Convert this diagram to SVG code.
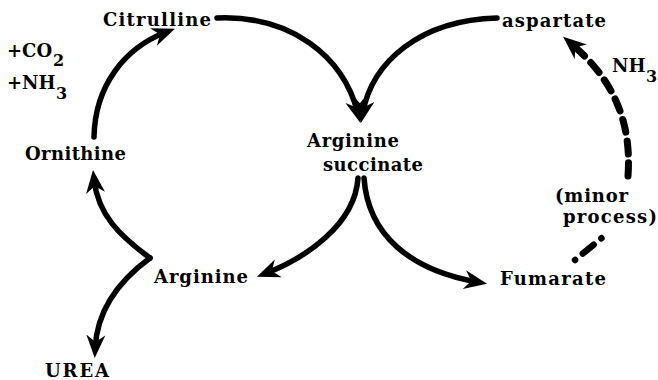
<svg xmlns="http://www.w3.org/2000/svg" width="658" height="380" viewBox="0 0 658 380">
<style>
text{font-family:"DejaVu Serif","Liberation Serif",serif;font-weight:bold;font-size:18px;fill:#000}
.sub{font-size:16px}
.c{fill:none;stroke:#000;stroke-width:5.5;stroke-linecap:round}
.d{fill:none;stroke:#000;stroke-width:7;stroke-linecap:round;stroke-dasharray:13 9}
.d2{fill:none;stroke:#000;stroke-width:6.5;stroke-linecap:round;stroke-dasharray:0.1 10 14 10 0.1 100}
</style>
<defs>
<marker id="ah" markerUnits="userSpaceOnUse" markerWidth="30" markerHeight="30" viewBox="-15 -15 30 30" refX="0" refY="0" orient="auto" overflow="visible">
<path d="M10,0 L-13,-9.5 L-6,0 L-13,9.5 Z" fill="#000"/>
</marker>
</defs>
<g id="connectors">
<path class="c" d="M94,137 C95,85 125,48 165.6,32.3" marker-end="url(#ah)"/>
<path class="c" d="M217,18 C290,15 343,55 357.9,113.2" marker-end="url(#ah)"/>
<path class="c" d="M497,18 C420,20 372,62 362.7,113.2" marker-end="url(#ah)"/>
<path class="c" d="M358,178 C355,225 305,258 266.2,273.2" marker-end="url(#ah)"/>
<path class="c" d="M364,178 C368,235 410,270 477.2,282" marker-end="url(#ah)"/>
<path class="c" d="M150,258 C120,236 98,215 94.1,180" marker-end="url(#ah)"/>
<path class="c" d="M150,258 C120,280 97,310 95.2,348" marker-end="url(#ah)"/>
<path class="d" d="M628,176 C632,120 612,78 570.8,43.3" marker-end="url(#ah)"/>
<path class="d2" d="M575,260 L603,237"/>
</g>
<g id="citrulline"><text x="103" y="26" textLength="108">Citrulline</text></g>
<g id="co2"><text x="7" y="57">+CO<tspan class="sub" x="53" y="66">2</tspan></text></g>
<g id="nh3-left"><text x="7" y="89">+NH<tspan class="sub" x="56" y="99">3</tspan></text></g>
<g id="ornithine"><text x="25" y="160" textLength="101">Ornithine</text></g>
<g id="aspartate"><text x="502" y="27" textLength="104">aspartate</text></g>
<g id="nh3-right"><text x="612" y="72">NH<tspan class="sub" x="646" y="82">3</tspan></text></g>
<g id="arginine-succinate"><text x="307" y="147" textLength="92">Arginine</text><text x="323" y="171" textLength="100">succinate</text></g>
<g id="minor-process"><text x="555" y="202" textLength="73">(minor</text><text x="563" y="223" textLength="94">process)</text></g>
<g id="arginine"><text x="154" y="283" textLength="94">Arginine</text></g>
<g id="fumarate"><text x="500" y="285" textLength="106">Fumarate</text></g>
<g id="urea"><text x="45" y="377" textLength="64">UREA</text></g>
</svg>
